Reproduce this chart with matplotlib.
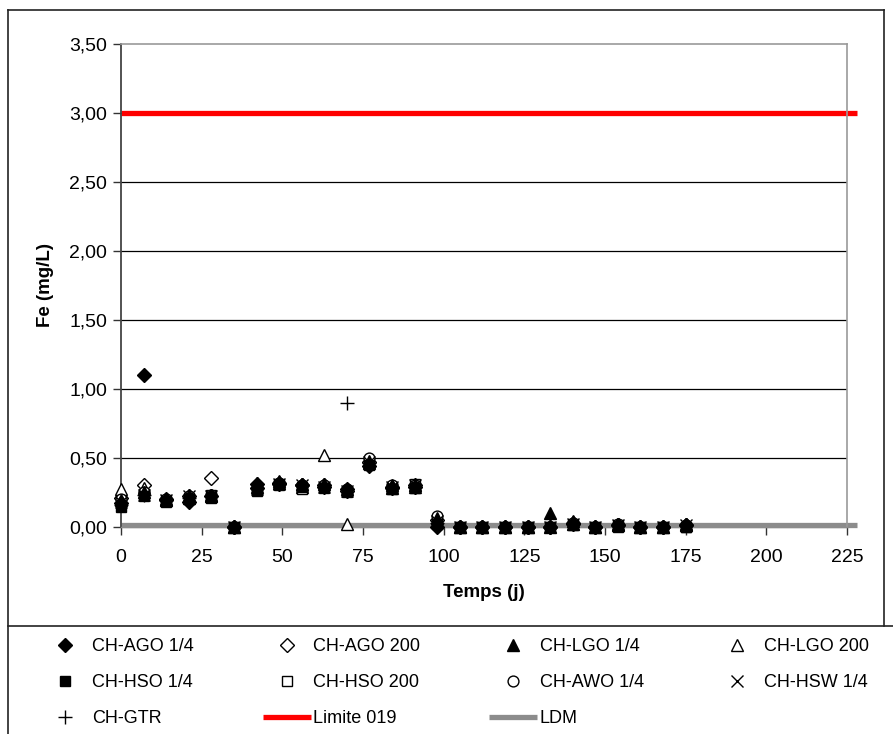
import matplotlib
matplotlib.use("Agg")
import matplotlib.pyplot as plt
from matplotlib.lines import Line2D
from matplotlib.ticker import FuncFormatter

plt.rcParams['font.family'] = ['Liberation Sans', 'DejaVu Sans']

# Sampling days (j)
days = [0, 7, 14, 21, 28, 35, 42, 49, 56, 63, 70, 77, 84, 91, 98,
        105, 112, 119, 126, 133, 140, 147, 154, 161, 168, 175]

# Fe concentrations (mg/L) per column
ago_14  = [0.17, 1.10, 0.19, 0.18, 0.22, 0.00, 0.31, 0.32, 0.30, 0.29, 0.27, 0.44, 0.28, 0.29, 0.00,
           0.00, 0.00, 0.00, 0.00, 0.00, 0.02, 0.00, 0.01, 0.00, 0.00, 0.01]
ago_200 = [0.21, 0.30, 0.20, 0.22, 0.35, 0.00, 0.28, 0.31, 0.30, 0.30, 0.26, 0.47, 0.29, 0.30, 0.05,
           0.00, 0.00, 0.00, 0.00, 0.00, 0.03, 0.00, 0.01, 0.00, 0.00, 0.01]
lgo_14  = [0.19, 0.25, 0.20, 0.23, 0.23, 0.00, 0.32, 0.33, 0.31, 0.31, 0.27, 0.48, 0.30, 0.30, 0.06,
           0.00, 0.00, 0.00, 0.00, 0.10, 0.04, 0.00, 0.02, 0.00, 0.00, 0.02]
lgo_200 = [0.27, 0.28, 0.19, 0.21, 0.22, 0.00, 0.29, 0.32, 0.29, 0.52, 0.02, 0.46, 0.28, 0.29, 0.04,
           0.00, 0.00, 0.00, 0.00, 0.00, 0.02, 0.00, 0.01, 0.00, 0.00, 0.01]
hso_14  = [0.14, 0.22, 0.18, 0.20, 0.21, 0.00, 0.26, 0.30, 0.29, 0.28, 0.25, 0.45, 0.27, 0.28, 0.02,
           0.00, 0.00, 0.00, 0.00, 0.00, 0.01, 0.00, 0.00, 0.00, 0.00, 0.00]
hso_200 = [0.18, 0.24, 0.19, 0.21, 0.23, 0.00, 0.27, 0.31, 0.27, 0.29, 0.26, 0.46, 0.29, 0.31, 0.03,
           0.00, 0.00, 0.00, 0.00, 0.00, 0.02, 0.00, 0.01, 0.00, 0.00, 0.00]
awo_14  = [0.20, 0.25, 0.20, 0.22, 0.23, 0.00, 0.28, 0.32, 0.30, 0.30, 0.27, 0.50, 0.30, 0.30, 0.08,
           0.00, 0.00, 0.00, 0.00, 0.00, 0.03, 0.00, 0.02, 0.00, 0.00, 0.01]
hsw_14  = [0.18, 0.23, 0.19, 0.22, 0.22, 0.00, 0.27, 0.31, 0.30, 0.29, 0.26, 0.47, 0.29, 0.30, 0.04,
           0.00, 0.00, 0.00, 0.00, 0.00, 0.02, 0.00, 0.01, 0.00, 0.00, 0.01]
gtr     = [0.16, 0.23, 0.19, 0.21, 0.22, 0.00, 0.28, 0.31, 0.30, 0.30, 0.90, 0.46, 0.28, 0.29, 0.03,
           0.00, 0.00, 0.00, 0.00, 0.00, 0.02, 0.00, 0.01, 0.00, 0.00, 0.01]

# Reference lines
ref_days = [0, 228]
limite_019 = [3.0, 3.0]
ldm = [0.01, 0.01]

x_ticks = [0, 25, 50, 75, 100, 125, 150, 175, 200, 225]
y_ticks = [0.0, 0.5, 1.0, 1.5, 2.0, 2.5, 3.0, 3.5]

W, H = 893, 734
fig = plt.figure(figsize=(W / 100, H / 100), dpi=100)
ax = fig.add_axes([121 / W, 1 - 526.7 / H, (847 - 121) / W, (526.7 - 44) / H])

# Horizontal gridlines
for yv in y_ticks[1:-1]:
    ax.axhline(yv, color='black', lw=0.9, zorder=1)

ax.plot(ref_days, limite_019, color='#ff0000', lw=3.8, solid_capstyle='butt',
        clip_on=False, zorder=2, label='Limite 019')
ax.plot(ref_days, ldm, color='#8c8c8c', lw=3.8, solid_capstyle='butt',
        clip_on=False, zorder=2, label='LDM')

# name, values, marker style, drawing layer (filled symbols end up on top)
series = [
    ('CH-AGO 1/4', ago_14,  dict(marker='D', ms=7.0, mfc='black', mec='black'), 5),
    ('CH-AGO 200', ago_200, dict(marker='D', ms=7.0, mfc='white', mec='black'), 3),
    ('CH-LGO 1/4', lgo_14,  dict(marker='^', ms=8.8, mfc='black', mec='black'), 5),
    ('CH-LGO 200', lgo_200, dict(marker='^', ms=8.8, mfc='white', mec='black'), 3),
    ('CH-HSO 1/4', hso_14,  dict(marker='s', ms=7.6, mfc='black', mec='black'), 5),
    ('CH-HSO 200', hso_200, dict(marker='s', ms=7.6, mfc='white', mec='black'), 3),
    ('CH-AWO 1/4', awo_14,  dict(marker='o', ms=7.8, mfc='white', mec='black'), 3),
    ('CH-HSW 1/4', hsw_14,  dict(marker='x', ms=8.0, mec='black', mew=1.0), 4),
    ('CH-GTR',     gtr,     dict(marker='+', ms=10.0, mec='black', mew=1.0), 4),
]
handles = {}
for name, vals, style, z in series:
    kw = dict(style)
    kw.setdefault('mew', 1.0)
    h, = ax.plot(days, vals, ls='none', clip_on=False, zorder=z, label=name, **kw)
    handles[name] = h

ax.set_xlim(0, 225)
ax.set_ylim(0, 3.5)
ax.set_xticks(x_ticks)
ax.set_yticks(y_ticks)
ax.yaxis.set_major_formatter(FuncFormatter(lambda v, p: f"{v:.2f}".replace('.', ',')))
ax.tick_params(axis='both', labelsize=14, direction='out', length=6, width=1,
               color='#333333', pad=4)
ax.tick_params(axis='x', pad=10)

for side in ['top', 'right']:
    ax.spines[side].set_color('#999999')
    ax.spines[side].set_linewidth(1.2)
ax.spines['left'].set_color('#444444')
ax.spines['left'].set_linewidth(1.3)
ax.spines['bottom'].set_color('#8c8c8c')
ax.spines['bottom'].set_linewidth(1.0)

ax.set_xlabel('Temps (j)', fontsize=13.5, fontweight='bold', labelpad=13)
ax.set_ylabel('Fe (mg/L)', fontsize=13.5, fontweight='bold', labelpad=11)

# Chart frame and legend box
def fig_line(x0, y0, x1, y1):
    fig.add_artist(Line2D([x0 / W, x1 / W], [1 - y0 / H, 1 - y1 / H],
                          color='#222222', lw=1.2, transform=fig.transFigure))

fig_line(8, 10, 884, 10)
fig_line(8, 10, 8, H)
fig_line(884, 10, 884, 626)
fig_line(8, 626, W, 626)

order = ['CH-AGO 1/4', 'CH-HSO 1/4', 'CH-GTR',
         'CH-AGO 200', 'CH-HSO 200', 'Limite 019',
         'CH-LGO 1/4', 'CH-AWO 1/4', 'LDM',
         'CH-LGO 200', 'CH-HSW 1/4']
all_handles = dict(handles)
for ln in ax.get_lines():
    if ln.get_label() in ('Limite 019', 'LDM'):
        all_handles[ln.get_label()] = ln
fig.legend([all_handles[k] for k in order], order, ncol=4, frameon=False,
           loc='upper left', bbox_to_anchor=(34 / W, 1 - 631 / H),
           fontsize=13, handlelength=2.65, handletextpad=0.15,
           columnspacing=3.83, labelspacing=1.05, borderaxespad=0)

fig.savefig('out.png', dpi=100)
